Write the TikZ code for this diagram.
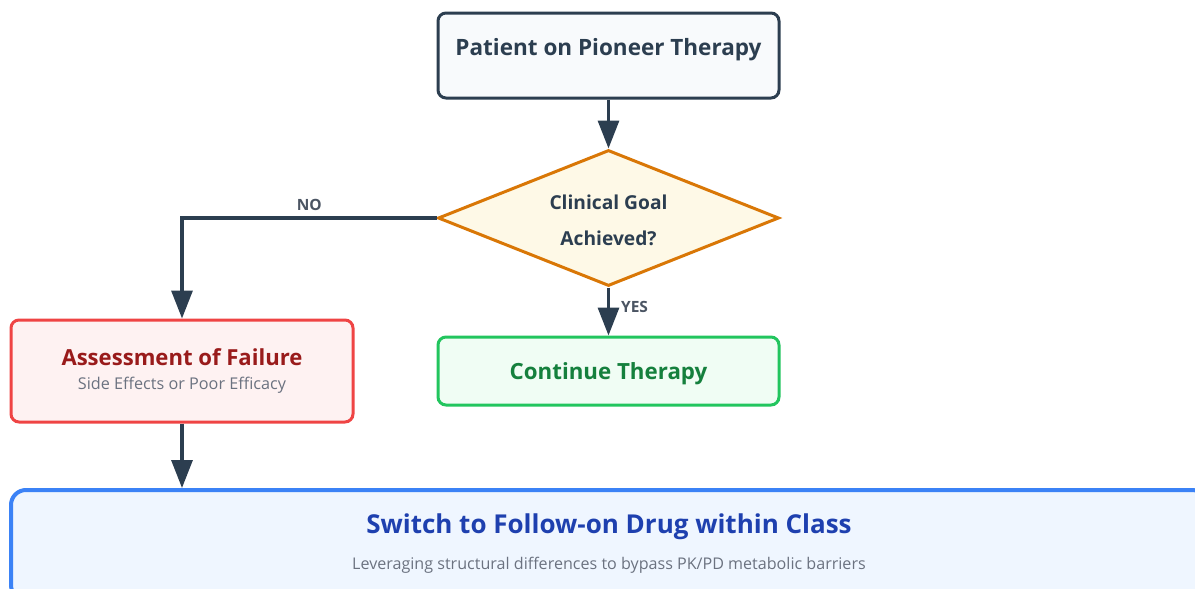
\documentclass[tikz,border=0pt]{standalone}
\usepackage{fontspec}
\setmainfont{Open Sans}
\usetikzlibrary{arrows.meta,shapes.geometric}
\definecolor{ink}{HTML}{2C3E50}
\definecolor{startfill}{HTML}{F8FAFC}
\definecolor{decborder}{HTML}{D97706}
\definecolor{decfill}{HTML}{FEF9E7}
\definecolor{failborder}{HTML}{EF4444}
\definecolor{failfill}{HTML}{FEF2F2}
\definecolor{failtext}{HTML}{991B1B}
\definecolor{okborder}{HTML}{22C55E}
\definecolor{okfill}{HTML}{F0FDF4}
\definecolor{oktext}{HTML}{15803D}
\definecolor{switchborder}{HTML}{3B82F6}
\definecolor{switchfill}{HTML}{EFF6FF}
\definecolor{switchtext}{HTML}{1E40AF}
\definecolor{subtext}{HTML}{6B7280}
\definecolor{edgelabel}{HTML}{4B5563}
\tikzset{
  card/.style={rectangle, rounded corners=8pt, line width=3pt, inner sep=0pt},
  flow/.style={draw=ink, line width=3.2pt, -{Triangle[length=28pt,width=21pt]}},
  edgetag/.style={font=\bfseries\fontsize{15.5}{18}\selectfont, text=edgelabel, inner sep=3pt},
}
\begin{document}
\begin{tikzpicture}[x=1pt,y=-1pt]
\useasboundingbox (0,0) rectangle (1195,589);
\clip (0,0) rectangle (1195,589);

% start box
\node[card, draw=ink, fill=startfill, minimum width=341pt, minimum height=85pt] (start) at (608.5,55.5) {};
\node[font=\bfseries\fontsize{22.5}{26}\selectfont, text=ink] (starttxt) at (608.5,50) {Patient on Pioneer Therapy};

% decision
\node[diamond, draw=decborder, fill=decfill, line width=3pt, minimum width=341pt, minimum height=136pt, inner sep=0pt] (goal) at (608.5,218) {};
\node[font=\bfseries\fontsize{19.2}{36}\selectfont, text=ink, align=center] (goaltxt) at (608.5,220.5) {Clinical Goal\\Achieved?};

% continue box
\node[card, draw=okborder, fill=okfill, minimum width=341pt, minimum height=68pt] (cont) at (608.5,371) {};
\node[font=\bfseries\fontsize{22.3}{26}\selectfont, text=oktext] (conttxt) at (608.5,374) {Continue Therapy};

% failure assessment box
\node[card, draw=failborder, fill=failfill, minimum width=342pt, minimum height=102pt] (fail) at (182,371) {};
\node[font=\bfseries\fontsize{22.1}{26}\selectfont, text=failtext] (failtxt) at (182,357) {Assessment of Failure};
\node[font=\fontsize{16.2}{19}\selectfont, text=subtext] (failsub) at (182,385) {Side Effects or Poor Efficacy};

% switch box
\node[rectangle, rounded corners=15pt, line width=4pt, draw=switchborder, fill=switchfill, minimum width=1196pt, minimum height=110pt, inner sep=0pt] (switch) at (609,545) {};
\node[font=\bfseries\fontsize{26}{30}\selectfont, text=switchtext] (switchtxt) at (609,527) {Switch to Follow-on Drug within Class};
\node[font=\fontsize{16.1}{19}\selectfont, text=subtext] (switchsub) at (609,565) {Leveraging structural differences to bypass PK/PD metabolic barriers};

% connectors
\draw[flow] (start.south) -- (goal.north);
\draw[flow] (goal.west) -| node[edgetag, pos=0.25, above, yshift=3pt] (nolbl) {NO} (fail.north);
\draw[flow] (goal.south) -- node[edgetag, right, pos=0.4, inner sep=2pt, xshift=9pt] (yeslbl) {YES} (cont.north);
\draw[flow] (fail.south) -- (fail.south |- switch.north);
\end{tikzpicture}
\end{document}
